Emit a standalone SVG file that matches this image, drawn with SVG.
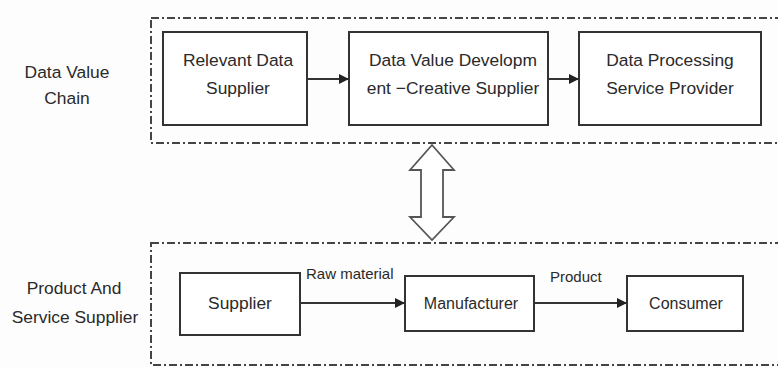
<svg xmlns="http://www.w3.org/2000/svg" width="778" height="367" viewBox="0 0 778 367">
  <defs>
    <marker id="arrow" viewBox="0 0 10 10" refX="10" refY="5" markerWidth="10" markerHeight="10" markerUnits="userSpaceOnUse" orient="auto">
      <path d="M0,0 L10,5 L0,10 z" fill="#222"/>
    </marker>
    <style>
      .frame { fill: none; stroke: #444; stroke-width: 2; stroke-dasharray: 8 3 2 3; }
      .box { fill: #fff; stroke: #333; stroke-width: 2; }
      .label { font-family: "Liberation Sans", Arial, sans-serif; font-size: 17.4px; fill: #2a2a2a; text-anchor: middle; }
      .small { font-size: 16px; }
      .edge-label { font-family: "Liberation Sans", Arial, sans-serif; font-size: 15px; fill: #2a2a2a; }
      .link { stroke: #333; stroke-width: 2; fill: none; marker-end: url(#arrow); }
    </style>
  </defs>
  <rect width="778" height="367" fill="#fdfdfd"/>

  <!-- dash-dot layer frames -->
  <g id="frames">
    <rect class="frame" x="151" y="18" width="640" height="125"/>
    <rect class="frame" x="151" y="243" width="640" height="122"/>
  </g>

  <!-- layer titles -->
  <g id="title-data-chain">
    <text class="label" x="67" y="78">Data Value</text>
    <text class="label" x="67" y="104">Chain</text>
  </g>
  <g id="title-product-chain">
    <text class="label" x="74" y="294">Product And</text>
    <text class="label" x="75" y="323">Service Supplier</text>
  </g>

  <!-- data value chain nodes -->
  <g id="relevant-data-supplier">
    <rect class="box" x="163" y="32" width="144" height="93"/>
    <text class="label" x="238" y="66">Relevant Data</text>
    <text class="label" x="238" y="94">Supplier</text>
  </g>
  <g id="data-value-developer">
    <rect class="box" x="349" y="32" width="199" height="93"/>
    <text class="label" x="453" y="66">Data Value Developm</text>
    <text class="label" x="453" y="94">ent −Creative Supplier</text>
  </g>
  <g id="data-processing-provider">
    <rect class="box" x="579" y="32" width="182" height="93"/>
    <text class="label" x="670" y="66">Data Processing</text>
    <text class="label" x="670" y="94">Service Provider</text>
  </g>

  <!-- product and service nodes -->
  <g id="supplier">
    <rect class="box" x="180" y="273" width="120" height="62"/>
    <text class="label" x="240" y="309">Supplier</text>
  </g>
  <g id="manufacturer">
    <rect class="box" x="405" y="276" width="129" height="55"/>
    <text class="label small" x="471" y="309">Manufacturer</text>
  </g>
  <g id="consumer">
    <rect class="box" x="627" y="276" width="116" height="55"/>
    <text class="label small" x="686" y="309">Consumer</text>
  </g>

  <!-- connectors -->
  <g id="connectors">
    <line class="link" x1="307" y1="79" x2="349" y2="79"/>
    <line class="link" x1="548" y1="79" x2="579" y2="79"/>
    <line class="link" x1="300" y1="303" x2="405" y2="303"/>
    <line class="link" x1="534" y1="303" x2="627" y2="303"/>
    <text class="edge-label" x="306" y="279">Raw material</text>
    <text class="edge-label" x="550" y="282">Product</text>
    <!-- hollow two-way arrow linking the two layers -->
    <polygon points="432,145 454,170 443,170 443,217 454,217 432,240 410,217 421,217 421,170 410,170" fill="#fff" stroke="#555" stroke-width="1.8" stroke-linejoin="miter"/>
  </g>
</svg>
